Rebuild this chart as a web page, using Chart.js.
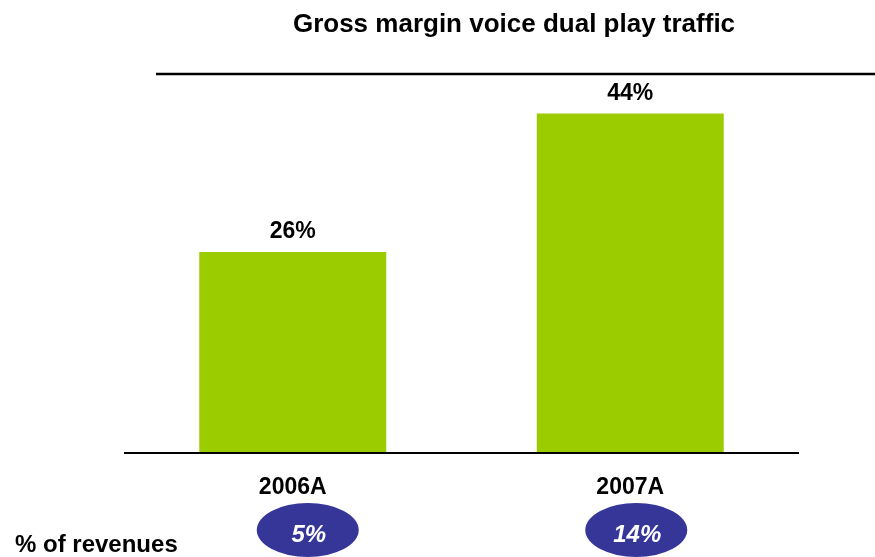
<!DOCTYPE html>
<html>
<head>
<meta charset="utf-8">
<script src="https://cdn.jsdelivr.net/npm/chart.js@4.4.1/dist/chart.umd.min.js"></script>
<style>
  html, body { margin: 0; padding: 0; background: #fff; }
  #wrap { position: relative; width: 875px; height: 557px; }
</style>
</head>
<body>
<div id="wrap"><canvas id="chartMargin"></canvas></div>
<script>
// --------- dados ---------
const years = ['2006A', '2007A'];
const grossMargin = [26, 44];        // % margem bruta
const revenueShare = [5, 14];        // % of revenues (elipses)

const GREEN = '#9BCC00';
const BLUE = '#363699';
const FONT = 'Arial, "Liberation Sans", sans-serif';

// desenha título, linhas, rótulos e elipses
const decorPlugin = {
  id: 'decor',
  afterDatasetsDraw(chart, args, opts) {
    const { ctx, chartArea } = chart;
    const bars = chart.getDatasetMeta(0).data;
    ctx.save();

    // título
    ctx.fillStyle = '#000';
    ctx.font = 'bold 26px ' + FONT;
    ctx.textAlign = 'center';
    ctx.textBaseline = 'middle';
    ctx.fillText('Gross margin voice dual play traffic', 514, 25);

    // linha superior
    ctx.strokeStyle = '#000';
    ctx.lineWidth = 2.5;
    ctx.beginPath();
    ctx.moveTo(156, 74);
    ctx.lineTo(chart.width, 74);
    ctx.stroke();

    // eixo x
    ctx.lineWidth = 2;
    ctx.beginPath();
    ctx.moveTo(chartArea.left, chartArea.bottom + 1);
    ctx.lineTo(chartArea.right, chartArea.bottom + 1);
    ctx.stroke();

    bars.forEach((bar, i) => {
      // valor acima da barra
      ctx.fillStyle = '#000';
      ctx.font = 'bold 23px ' + FONT;
      ctx.fillText(grossMargin[i] + '%', bar.x, bar.y - 20);

      // categoria
      ctx.fillText(years[i], bar.x, chartArea.bottom + 36);

      // elipse com % of revenues
      const cx = bar.x + opts.shift[i];
      const cy = 530;
      ctx.fillStyle = BLUE;
      ctx.beginPath();
      ctx.ellipse(cx, cy, 51, 27, 0, 0, Math.PI * 2);
      ctx.fill();
      ctx.fillStyle = '#fff';
      ctx.font = 'italic bold 24px ' + FONT;
      ctx.fillText(revenueShare[i] + '%', cx + 1, cy + 5);
    });

    ctx.fillStyle = '#000';
    ctx.font = 'bold 24px ' + FONT;
    ctx.textAlign = 'left';
    ctx.fillText('% of revenues', 15, 545);
    ctx.restore();
  }
};

new Chart(document.getElementById('chartMargin'), {
  type: 'bar',
  data: {
    labels: years,
    datasets: [{
      data: grossMargin,
      backgroundColor: GREEN,
      borderWidth: 0,
      barPercentage: 0.554,
      categoryPercentage: 1
    }]
  },
  options: {
    responsive: true,
    maintainAspectRatio: false,
    animation: false,
    layout: { padding: { left: 124, right: 76, top: 52, bottom: 105 } },
    plugins: {
      legend: { display: false },
      tooltip: { enabled: false },
      decor: { shift: [15, 6] }
    },
    scales: {
      x: { display: false },
      y: { display: false, min: 0, max: 52 }
    }
  },
  plugins: [decorPlugin]
});
</script>
</body>
</html>
